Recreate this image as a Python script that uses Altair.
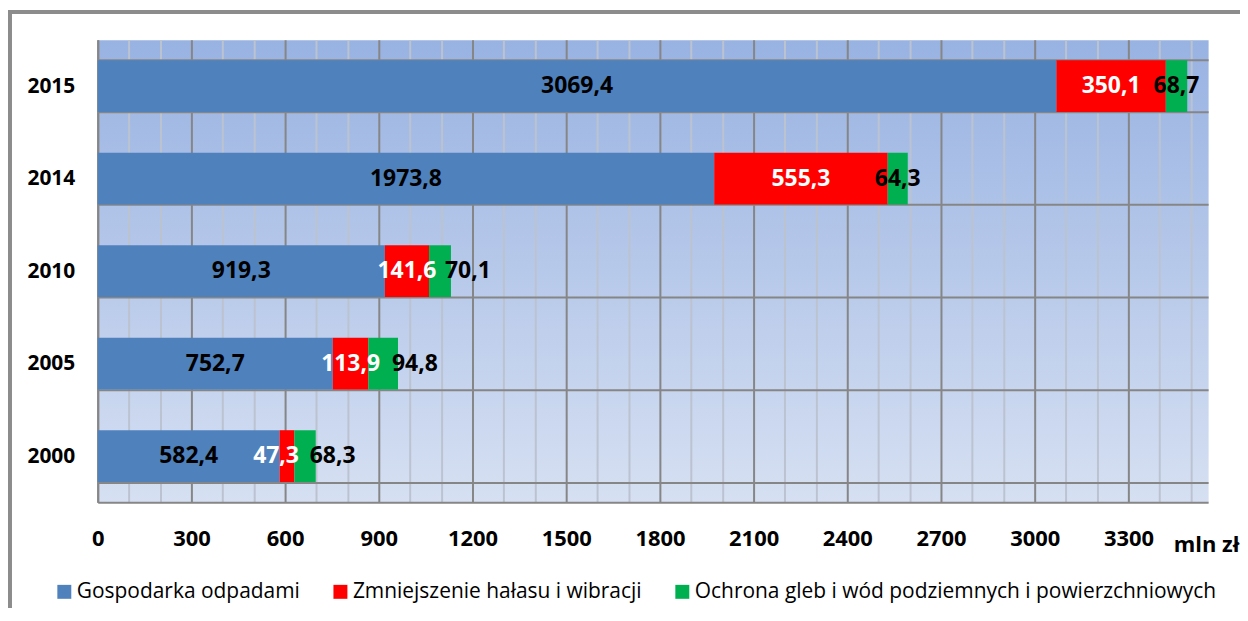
import altair as alt
import pandas as pd

years = ["2015", "2014", "2010", "2005", "2000"]
series = [
    "Gospodarka odpadami",
    "Zmniejszenie hałasu i wibracji",
    "Ochrona gleb i wód podziemnych i powierzchniowych",
]
gospodarka = [3069.4, 1973.8, 919.3, 752.7, 582.4]
halas = [350.1, 555.3, 141.6, 113.9, 47.3]
gleby = [68.7, 64.3, 70.1, 94.8, 68.3]
colors = ["#4F81BD", "#FF0000", "#00B050"]
x_ticks = list(range(0, 3600, 100))

rows = []
for i, y in enumerate(years):
    for j, vals in enumerate([gospodarka, halas, gleby]):
        v = vals[i]
        rows.append({"year": y, "series": series[j], "order": j, "value": v,
                     "label": f"{v:.1f}".replace(".", ",")})
df = pd.DataFrame(rows)

FONT = "Open Sans"
W, H = 1114, 464

base = alt.Chart(df).transform_stack(
    stack="value", groupby=["year"], as_=["v0", "v1"],
    sort=[alt.SortField("order", order="ascending")]
).transform_calculate(mid="(datum.v0 + datum.v1) / 2").transform_joinaggregate(
    total="sum(value)", groupby=["year"])

y_scale = alt.Scale(paddingInner=0.44, paddingOuter=0.22)
y_axis = alt.Axis(ticks=False, labelPadding=23, labelFont=FONT, labelFontSize=21,
                  labelFontWeight="bold", labelColor="black",
                  domainColor="#868686", domainWidth=2,
                  grid=True, tickBand="extent", gridColor="#868686", gridWidth=2)

x_scale = alt.Scale(domain=[0, 3555], nice=False, zero=True)
x_axis = alt.Axis(values=x_ticks, tickCount=60, format="d", ticks=False, labelPadding=26,
                  labelExpr="datum.value % 300 === 0 ? datum.label : ''",
                  labelOverlap=False, labelFlush=False, labelFont=FONT, labelFontSize=22,
                  labelFontWeight="bold", labelColor="black",
                  domainColor="#868686", domainWidth=2,
                  grid=True,
                  gridColor={"condition": {"test": "datum.value % 300 === 0", "value": "#868686"},
                             "value": "#BCC3D0"},
                  gridWidth=2,
                  titleFont=FONT, titleFontSize=22, titleFontWeight="bold",
                  titleColor="black", titleAlign="left", titleBaseline="middle",
                  titleX=1079, titleY=42)


def y_enc():
    return alt.Y("year:N", sort=years, title=None, scale=y_scale, axis=y_axis)


def x_enc(field):
    return alt.X(field, title="mln zł", scale=x_scale, axis=x_axis)


bars = base.mark_bar(size=52).encode(
    y=y_enc(),
    x=x_enc("v0:Q"),
    x2="v1:Q",
    color=alt.Color("series:N", scale=alt.Scale(domain=series, range=colors),
                    legend=alt.Legend(title=None, orient="none", direction="horizontal",
                                      legendX=-44, legendY=543, symbolType="square",
                                      symbolSize=196, symbolStrokeWidth=0, labelOffset=2,
                                      columnPadding=30, labelFont=FONT, labelFontSize=21,
                                      labelColor="black", labelLimit=800)),
)

txt_color = alt.condition("datum.series === 'Zmniejszenie hałasu i wibracji'",
                          alt.value("white"), alt.value("black"))
is_green_small = f"datum.series === '{series[2]}' && datum.total < 1500"
is_red_tiny = f"datum.series === '{series[1]}' && datum.value < 100"

text_main = base.transform_filter(f"!({is_green_small}) && !({is_red_tiny})").mark_text(
    font=FONT, fontSize=23, fontWeight="bold", baseline="middle", align="center").encode(
    y=y_enc(), x=x_enc("mid:Q"), text="label:N", color=txt_color)

text_red = base.transform_filter(is_red_tiny).mark_text(
    font=FONT, fontSize=23, fontWeight="bold", baseline="middle", align="center", dx=-11).encode(
    y=y_enc(), x=x_enc("mid:Q"), text="label:N", color=txt_color)

text_green = base.transform_filter(is_green_small).mark_text(
    font=FONT, fontSize=23, fontWeight="bold", baseline="middle", align="left", dx=-6).encode(
    y=y_enc(), x=x_enc("v1:Q"), text="label:N", color=txt_color)

frame_data = alt.Data(values=[{}])
frame_left = alt.Chart(frame_data).mark_rule(color="#8C8C8C", strokeWidth=4).encode(
    x=alt.value(-88), y=alt.value(-30), y2=alt.value(580))
frame_top = alt.Chart(frame_data).mark_rule(color="#8C8C8C", strokeWidth=4).encode(
    x=alt.value(-90), x2=alt.value(1160), y=alt.value(-28))

gradient_expr = ("{gradient: 'linear', x1: 0, y1: 0, x2: 0, y2: 1, stops: ["
                 "{offset: 0, color: '#98B2E2'}, {offset: 1, color: '#D6E0F2'}]}")

chart = alt.layer(frame_left, frame_top, bars, text_main, text_red, text_green).properties(
    width=W, height=H,
    autosize=alt.AutoSizeParams(type="none"),
    padding={"left": 90, "top": 31, "right": 32, "bottom": 105},
    background="white",
).configure_view(fill={"expr": gradient_expr}, stroke="transparent")

chart.save("out.html", embed_options={"renderer": "svg", "actions": False})
